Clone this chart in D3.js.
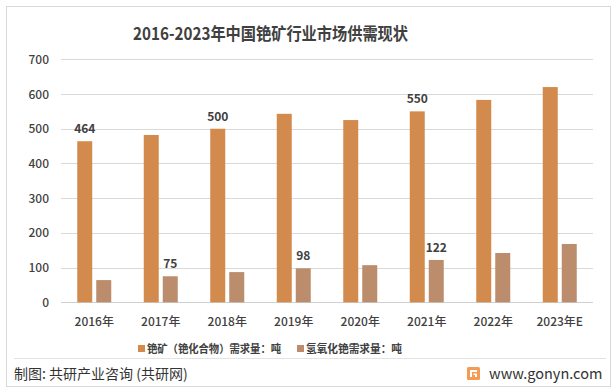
<!DOCTYPE html>
<html>
<head>
<meta charset="utf-8">
<script src="https://cdn.jsdelivr.net/npm/d3@7"></script>
<style>
  body { margin: 0; background: #fff; }
  svg { display: block; font-family: "Microsoft YaHei", "Noto Sans CJK SC", "DejaVu Sans", sans-serif; }
</style>
</head>
<body>
<svg id="chart" width="616" height="392"></svg>
<script>
const years = ['2016年', '2017年', '2018年', '2019年', '2020年', '2021年', '2022年', '2023年E']
const cesiumOre = [464, 482, 500, 543, 525, 550, 583, 620]
const cesiumHydroxide = [64, 75, 87, 98, 107, 122, 142, 168]
// only some bars carry a value label in the source
const oreLabels = [464, null, 500, null, null, 550, null, null]
const hydroxideLabels = [null, 75, null, 98, null, 122, null, null]
const yTicks = [0, 100, 200, 300, 400, 500, 600, 700]
const seriesNames = ['铯矿（铯化合物）需求量：吨', '氢氧化铯需求量：吨']
const colors = ['#D38B4D', '#BB8D6D']

const plotLeft = 61
    , plotRight = 593
    , plotTop = 59.3
    , plotBottom = 302.3
    , barWidth = 15
    , barGap = 4
    , textColor = '#404040'
    , svg = d3.select('#chart')

const x = d3.scaleBand().domain(years).range([plotLeft, plotRight])
const y = d3.scaleLinear().domain([0, 700]).range([plotBottom, plotTop])

// outer frame
svg.append('rect')
    .attr('x', 6.5).attr('y', 6.5)
    .attr('width', 604).attr('height', 380)
    .attr('fill', '#fff')
    .attr('stroke', '#d9d9d9')

svg.append('text')
    .attr('x', 133).attr('y', 40)
    .attr('font-size', 17.5)
    .attr('font-weight', 'bold')
    .attr('fill', textColor)
    .attr('textLength', 275)
    .attr('lengthAdjust', 'spacingAndGlyphs')
    .text('2016-2023年中国铯矿行业市场供需现状')

// grid + y labels
svg.append('g')
    .selectAll('line')
    .data(yTicks)
    .join('line')
    .attr('x1', plotLeft).attr('x2', plotRight)
    .attr('y1', d => Math.round(y(d)) + 0.5)
    .attr('y2', d => Math.round(y(d)) + 0.5)
    .attr('stroke', d => d === 0 ? '#cfcfcf' : '#d9d9d9')
    .attr('stroke-width', 1)

svg.append('g')
    .selectAll('text')
    .data(yTicks)
    .join('text')
    .attr('x', 49)
    .attr('y', d => y(d) + 4.5)
    .attr('text-anchor', 'end')
    .attr('font-size', 12)
    .attr('font-weight', 500)
    .attr('fill', textColor)
    .text(d => d)

const series = [cesiumOre, cesiumHydroxide]
const labelSets = [oreLabels, hydroxideLabels]
const offsets = [-barGap / 2 - barWidth, barGap / 2]

series.forEach((values, s) => {
    const g = svg.append('g')
    g.selectAll('rect')
        .data(values)
        .join('rect')
        .attr('x', (d, i) => x(years[i]) + x.bandwidth() / 2 + offsets[s])
        .attr('y', d => y(d))
        .attr('width', barWidth)
        .attr('height', d => y(0) - y(d))
        .attr('fill', colors[s])
    g.selectAll('text')
        .data(labelSets[s].map((v, i) => ({ v, i })).filter(d => d.v !== null))
        .join('text')
        .attr('x', d => x(years[d.i]) + x.bandwidth() / 2 + offsets[s] + barWidth / 2)
        .attr('y', d => y(d.v) - 8)
        .attr('text-anchor', 'middle')
        .attr('font-size', 12)
        .attr('font-weight', 'bold')
        .attr('fill', textColor)
        .text(d => d.v)
})

// x labels
svg.append('g')
    .selectAll('text')
    .data(years)
    .join('text')
    .attr('x', d => x(d) + x.bandwidth() / 2)
    .attr('y', 326)
    .attr('text-anchor', 'middle')
    .attr('font-size', 12)
    .attr('font-weight', 500)
    .attr('fill', textColor)
    .text(d => d)

// legend
const legendX = [138, 297]
    , legendWidths = [134, 96]
seriesNames.forEach((name, i) => {
    svg.append('rect')
        .attr('x', legendX[i]).attr('y', 345)
        .attr('width', 7).attr('height', 7)
        .attr('fill', colors[i])
    svg.append('text')
        .attr('x', legendX[i] + 9).attr('y', 353)
        .attr('font-size', 11)
        .attr('font-weight', 'bold')
        .attr('fill', textColor)
        .attr('textLength', legendWidths[i])
        .attr('lengthAdjust', 'spacingAndGlyphs')
        .text(name)
})

// footer
svg.append('line')
    .attr('x1', 14).attr('x2', 606)
    .attr('y1', 358.5).attr('y2', 358.5)
    .attr('stroke', '#e3e3e3')

svg.append('text')
    .attr('x', 14).attr('y', 379)
    .attr('font-size', 14)
    .attr('fill', '#333')
    .text('制图: 共研产业咨询 (共研网)')

const logo = svg.append('g').attr('transform', 'translate(467,367)')
logo.append('rect')
    .attr('width', 13).attr('height', 13).attr('rx', 1.5)
    .attr('fill', '#F39A55')
logo.append('path')
    .attr('d', 'M3,3 H10 V5 H5 V10 H8 V8 H6.5 V6.5 H10 V10 H3 Z')
    .attr('fill', '#fff')

svg.append('text')
    .attr('x', 489).attr('y', 379)
    .attr('font-size', 14.5)
    .attr('fill', '#333')
    .text('www.gonyn.com')
</script>
</body>
</html>
